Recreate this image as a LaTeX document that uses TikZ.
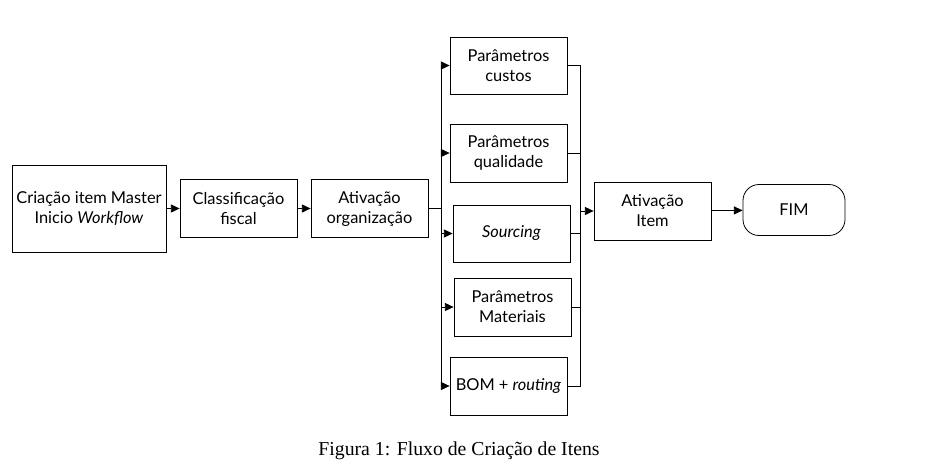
\documentclass[tikz,border=0pt]{standalone}
\usepackage{fontspec}
\setmainfont{Lato}
\newfontfamily\capfont{Liberation Serif}
\usetikzlibrary{arrows.meta}
\begin{document}
\begin{tikzpicture}[x=0.75pt,y=-0.75pt,
  box/.style={draw, line width=0.6pt, inner sep=0pt, align=center, font=\fontsize{12.3}{15}\selectfont, minimum width=87.75pt, minimum height=43.5pt},
  link/.style={line width=0.6pt},
  arr/.style={line width=0.6pt, -{Triangle[length=6.5pt,width=6pt]}}]
\useasboundingbox (0,0) rectangle (929,462);
\node[box, minimum width=115.5pt, minimum height=65.25pt] (A) at (89,208.5) {Criação item Master\\Inicio \textit{Workflow}};
\node[box] (B) at (238.5,208.5) {Classificação\\fiscal};
\node[box] (C) at (369.5,208.5) {Ativação\\organização};
\node[box, minimum height=42.75pt] (D) at (508.5,65.5) {Parâmetros\\custos};
\node[box] (E) at (508.5,153) {Parâmetros\\qualidade};
\node[box, minimum height=42.75pt] (F) at (511.5,233.5) {\textit{Sourcing}};
\node[box] (G) at (512.5,307) {Parâmetros\\Materiais};
\node[box] (H) at (508.5,386) {BOM + \textit{routing}};
\node[box] (I) at (652.5,211) {Ativação\\Item};
\node[box, minimum width=76.5pt, minimum height=38.25pt, rounded corners=12pt] (J) at (794,210) {FIM};
\node[font=\capfont\fontsize{14.8}{17}\selectfont] (cap) at (459,451) {Figura 1: Fluxo de Criação de Itens};
% left bus
\coordinate (lt) at (441,65.5);
\coordinate (lb) at (441,386);
\draw[arr] (A) -- (B);
\draw[arr] (B) -- (C);
\draw[link] (C.east) -- (C.east -| lt);
\draw[link] (lt) -- (lb);
\draw[arr] (lt) -- (D.west);
\draw[arr] (E.west -| lt) -- (E.west);
\draw[arr] (F.west -| lt) -- (F.west);
\draw[arr] (G.west -| lt) -- (G.west);
\draw[arr] (lb) -- (H.west);
% right bus
\coordinate (rt) at (580,65.5);
\coordinate (rb) at (580,386);
\draw[link] (D.east) -- (rt) -- (rb) -- (H.east);
\draw[link] (E.east) -- (E.east -| rt);
\draw[link] (F.east) -- (F.east -| rt);
\draw[link] (G.east) -- (G.east -| rt);
\draw[arr] (I.west -| rt) -- (I.west);
\draw[arr] (I) -- (J);
\end{tikzpicture}
\end{document}
